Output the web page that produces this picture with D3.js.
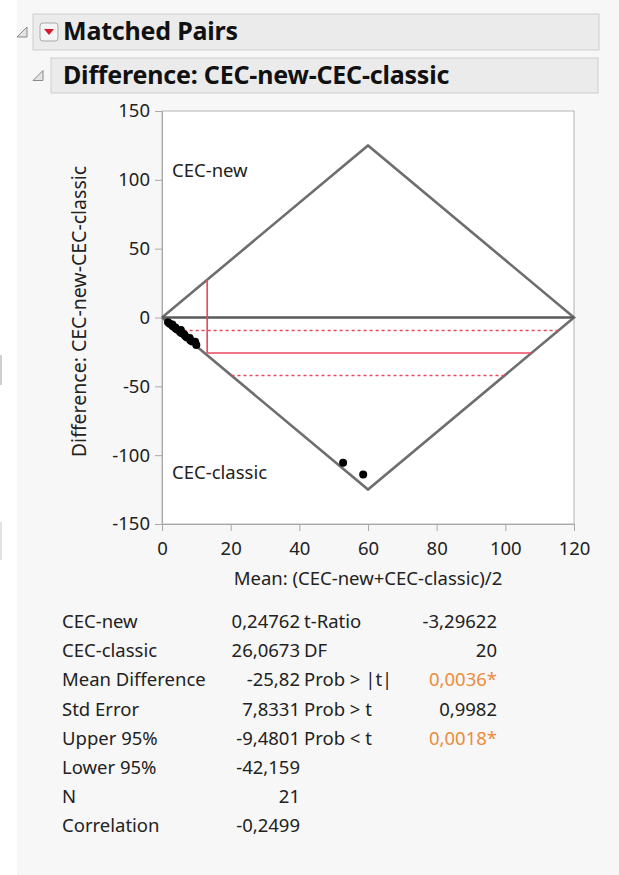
<!DOCTYPE html>
<html>
<head>
<meta charset="utf-8">
<script src="https://cdn.jsdelivr.net/npm/d3@7"></script>
<style>
  body { margin: 0; background: #fff; }
  text { font-family: "Noto Sans", "Open Sans", sans-serif; }
</style>
</head>
<body>
<div id="chart"></div>
<script>
// paired values (most CEC-new values sit near zero)
const cecNew = [0, 0, 0.5, 0, 0, 0.3, 0, 0, 1.0, 0, 0, 0.4, 0, 0, 0.6, 0, 0, 0.8, 0, 0, 1.6];
const cecClassic = [3.5, 4.5, 5.5, 6, 6.8, 7.5, 8, 8.8, 10, 10.5, 11.5, 12.5, 13.5, 14.5, 15.5, 16.5, 17.5, 18.5, 20, 105.5, 115.6];

// summary statistics
const meanNew = 0.24762;
const meanClassic = 26.0673;
const meanDiff = -25.82;
const upper95 = -9.4801;
const lower95 = -42.159;

// diamond outline vertices [mean, difference]
const diamond = [[0, 0], [60, 125], [120, 0], [60, -125], [0, 0]];

// axis ticks
const xTicks = [0, 20, 40, 60, 80, 100, 120];
const yTicks = [150, 100, 50, 0, -50, -100, -150];

// report table
const leftLabels = ['CEC-new', 'CEC-classic', 'Mean Difference', 'Std Error', 'Upper 95%', 'Lower 95%', 'N', 'Correlation'];
const leftValues = ['0,24762', '26,0673', '-25,82', '7,8331', '-9,4801', '-42,159', '21', '-0,2499'];
const rightLabels = ['t-Ratio', 'DF', 'Prob > |t|', 'Prob > t', 'Prob < t'];
const rightValues = ['-3,29622', '20', '0,0036*', '0,9982', '0,0018*'];
const rightFlag = [false, false, true, false, true];

const W = 619, H = 875;
const plot = { left: 162, right: 574, top: 111, bottom: 524 };
const fs = 18.5;

const svg = d3.select('#chart').append('svg')
    .attr('width', W)
    .attr('height', H);

// panel background
svg.append('rect').attr('x', 17).attr('y', 0).attr('width', W - 17).attr('height', H).attr('fill', '#f7f7f7');
// little gray marks on the far left edge
svg.append('rect').attr('x', 0).attr('y', 355).attr('width', 2).attr('height', 30).attr('fill', '#cfcfcf');
svg.append('rect').attr('x', 0).attr('y', 522).attr('width', 2).attr('height', 38).attr('fill', '#e2e2e2');

// outline headers
function header(x, y, w, h, triX, label, withButton) {
    svg.append('rect')
        .attr('x', x).attr('y', y).attr('width', w).attr('height', h)
        .attr('fill', '#ebebeb').attr('stroke', '#cdcdcd');
    const ty = y + h / 2;
    svg.append('path')
        .attr('d', `M${triX + 9},${ty - 5} L${triX + 9},${ty + 5} L${triX - 1},${ty + 5} Z`)
        .attr('fill', '#e4e4e4').attr('stroke', '#8a8a8a').attr('stroke-width', 1);
    let tx = x + 12;
    if (withButton) {
        svg.append('rect')
            .attr('x', x + 7).attr('y', ty - 9).attr('width', 18).attr('height', 18).attr('rx', 3)
            .attr('fill', '#f4f4f4').attr('stroke', '#a9a9a9');
        svg.append('path')
            .attr('d', `M${x + 11},${ty - 3} L${x + 21},${ty - 3} L${x + 16},${ty + 3} Z`)
            .attr('fill', '#d6192c');
        tx = x + 30;
    }
    svg.append('text')
        .attr('x', tx).attr('y', ty + 8)
        .attr('font-size', 25).attr('font-weight', 'bold').attr('fill', '#111')
        .attr('letter-spacing', -0.2)
        .text(label);
}
header(33, 14, 566, 36, 18, 'Matched Pairs', true);
header(51, 58, 547, 35, 34, 'Difference: CEC-new-CEC-classic', false);

// scales
const x = d3.scaleLinear().domain([0, 120]).range([plot.left, plot.right]);
const y = d3.scaleLinear().domain([-150, 150]).range([plot.bottom, plot.top]);

// plot frame
svg.append('rect')
    .attr('x', plot.left).attr('y', plot.top)
    .attr('width', plot.right - plot.left).attr('height', plot.bottom - plot.top)
    .attr('fill', '#fff').attr('stroke', '#b4b4b4');

// axes
const gx = svg.append('g')
    .attr('transform', `translate(0, ${plot.bottom})`)
    .call(d3.axisBottom(x).tickValues(xTicks).tickFormat(d => String(d))
        .tickSize(7).tickPadding(11).tickSizeOuter(0));
const gy = svg.append('g')
    .attr('transform', `translate(${plot.left}, 0)`)
    .call(d3.axisLeft(y).tickValues(yTicks).tickFormat(d => String(d))
        .tickSize(7).tickPadding(5).tickSizeOuter(0));
[gx, gy].forEach(g => {
    g.select('.domain').attr('stroke', '#a8a8a8');
    g.selectAll('.tick line').attr('stroke', '#a8a8a8');
    g.selectAll('.tick text')
        .attr('font-family', '"Noto Sans", sans-serif')
        .attr('font-size', fs).attr('fill', '#222');
});

svg.append('text')
    .attr('x', (plot.left + plot.right) / 2).attr('y', 585)
    .attr('text-anchor', 'middle').attr('font-size', fs).attr('fill', '#222')
    .text('Mean: (CEC-new+CEC-classic)/2');
svg.append('text')
    .attr('transform', `translate(86, ${(plot.top + plot.bottom) / 2 - 6}) rotate(-90)`)
    .attr('text-anchor', 'middle').attr('font-size', 19.5).attr('fill', '#222')
    .text('Difference: CEC-new-CEC-classic');

// diamond and zero line
const line = d3.line().x(d => x(d[0])).y(d => y(d[1]));
svg.append('path')
    .attr('d', line(diamond))
    .attr('fill', 'none').attr('stroke', '#6e6e6e').attr('stroke-width', 2.6);
svg.append('path')
    .attr('d', line([[0, 0], [120, 0]]))
    .attr('fill', 'none').attr('stroke', '#5a5a5a').attr('stroke-width', 2.4);

svg.append('text').attr('x', 172).attr('y', 177).attr('font-size', fs).attr('fill', '#222').text('CEC-new');
svg.append('text').attr('x', 172).attr('y', 479).attr('font-size', fs).attr('fill', '#222').text('CEC-classic');

// mean difference and confidence lines, clipped at the diamond edges
const slope = diamond[1][1] / diamond[1][0];
const centre = (meanNew + meanClassic) / 2;
const span = d => [Math.abs(d) / slope, 120 - Math.abs(d) / slope];
const red = '#e8485e';
svg.append('path')
    .attr('d', line([[centre, centre * slope], [centre, meanDiff]]))
    .attr('stroke', red).attr('stroke-width', 1.6).attr('fill', 'none');
svg.append('path')
    .attr('d', line([[centre, meanDiff], [span(meanDiff)[1], meanDiff]]))
    .attr('stroke', red).attr('stroke-width', 1.6).attr('fill', 'none');
[upper95, lower95].forEach(v => {
    const s = span(v);
    svg.append('path')
        .attr('d', line([[s[0], v], [s[1], v]]))
        .attr('stroke', red).attr('stroke-width', 1.6).attr('stroke-dasharray', '3,3').attr('fill', 'none');
});

// points
const pairs = cecNew.map((a, i) => ({ mean: (a + cecClassic[i]) / 2, diff: a - cecClassic[i] }));
svg.append('g').selectAll('circle')
    .data(pairs)
    .join('circle')
    .attr('cx', d => x(d.mean))
    .attr('cy', d => y(d.diff))
    .attr('r', 4)
    .attr('fill', '#000');

// report table
const rowY = i => 628 + i * 29.2;
const tbl = svg.append('g').attr('font-size', fs).attr('fill', '#222');
leftLabels.forEach((t, i) => tbl.append('text').attr('x', 62).attr('y', rowY(i)).text(t));
leftValues.forEach((t, i) => tbl.append('text').attr('x', 300).attr('y', rowY(i)).attr('text-anchor', 'end').text(t));
rightLabels.forEach((t, i) => tbl.append('text').attr('x', 304).attr('y', rowY(i)).text(t));
rightValues.forEach((t, i) => tbl.append('text')
    .attr('x', 497).attr('y', rowY(i)).attr('text-anchor', 'end')
    .attr('fill', rightFlag[i] ? '#ec8b3c' : '#222')
    .text(t));
</script>
</body>
</html>
